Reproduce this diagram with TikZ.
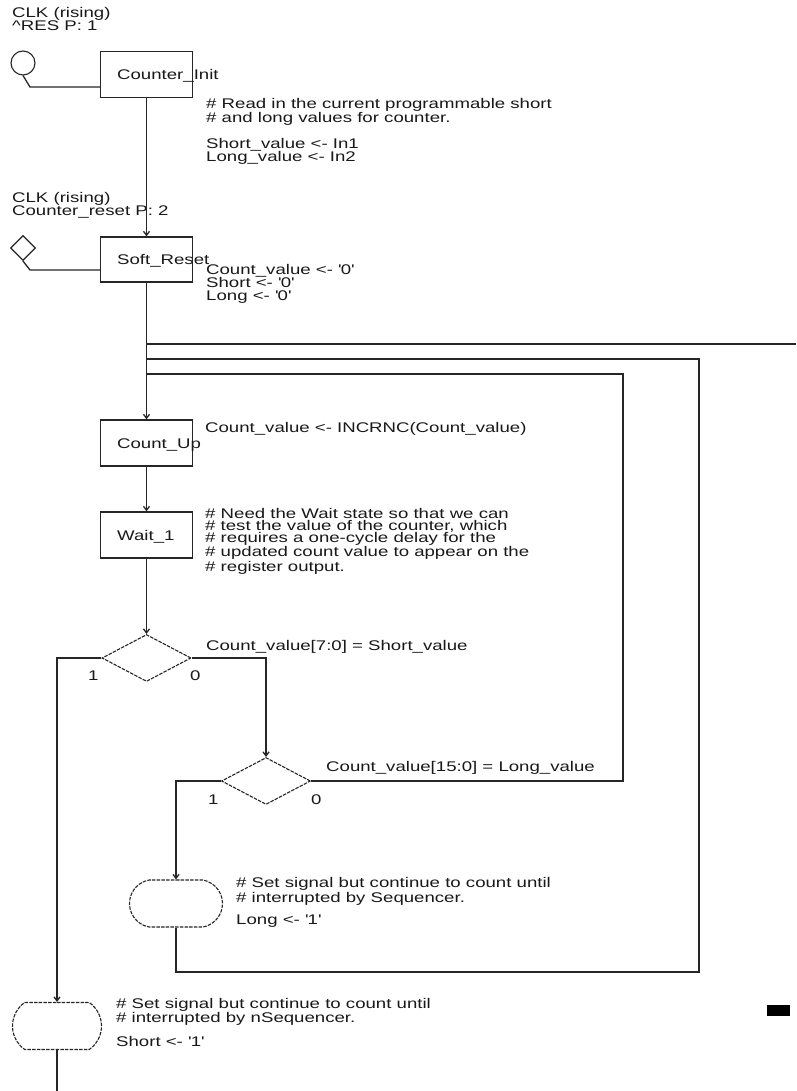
\documentclass[tikz,border=0pt]{standalone}
\usepackage{fontspec}
\setmainfont[FakeStretch=1.33]{Liberation Sans}
\usetikzlibrary{arrows.meta,shapes.geometric,shapes.misc}
\begin{document}
\begin{tikzpicture}[x=1pt,y=-1pt,
  wire/.style={line width=1.3pt, draw=black!85},
  arr/.style={wire, -{Straight Barb[length=4pt,width=6pt]}},
  statebox/.style={draw=black!85, line width=1.3pt, minimum width=92pt, minimum height=46pt, inner sep=0pt},
  dsh/.style={draw=black!85, line width=1.1pt, dash pattern=on 3.5pt off 1.2pt},
  cond/.style={diamond, dsh, minimum width=89pt, minimum height=47pt, inner sep=0pt},
  stad/.style={rounded rectangle, dsh, minimum height=47pt, inner sep=0pt},
  txt/.style={inner sep=0pt, anchor=base west, align=left, font=\fontsize{14}{13}\selectfont, text=black!90},
]
\useasboundingbox[fill=white] (0,0) rectangle (796,1091);

% start symbols
\node[circle, draw=black!85, line width=1.1pt, minimum size=24pt, inner sep=0pt] (c0) at (23,63) {};
\node[diamond, draw=black!85, line width=1.1pt, minimum width=25pt, minimum height=25pt, inner sep=0pt] (d0) at (23,248) {};

% labels of start symbols (anchor = baseline of last line)
\node[txt] (l0) at (12,31) {CLK (rising)\\\textasciicircum RES P: 1};
\node[txt] (l1) at (12,215) {CLK (rising)\\Counter\_reset P: 2};

% states
\node[statebox] (init) at (146.5,74.5) {};
\node[txt] (initt) at (117,80) {Counter\_Init};
\node[statebox, minimum height=45pt] (soft) at (146.5,259.5) {};
\node[txt] (softt) at (117,264) {Soft\_Reset};
\node[statebox] (cu) at (146.5,443) {};
\node[txt] (cut) at (117,448) {Count\_Up};
\node[statebox] (w1) at (146.5,535) {};
\node[txt] (w1t) at (117,540) {Wait\_1};

% conditions
\node[cond] (q1) at (146.5,658) {};
\node[cond] (q2) at (266,781) {};

% stadium states
\node[stad, minimum width=93pt, rounded rectangle arc length=160] (s2) at (176,903.5) {};
\node[stad, minimum width=89pt, rounded rectangle arc length=110] (s1) at (57,1026) {};

% comments (anchor = baseline of last line)
\node[txt] (k1) at (206,162) {\# Read in the current programmable short\\\# and long values for counter.\\[12pt]Short\_value <- In1\\Long\_value <- In2};
\node[txt] (k2) at (206,300) {Count\_value <- \textquotesingle0\textquotesingle\\Short <- \textquotesingle0\textquotesingle\\Long <- \textquotesingle0\textquotesingle};
\node[txt] (k3) at (205,432) {Count\_value <- INCRNC(Count\_value)};
\node[txt, font=\fontsize{14}{12}\selectfont] (k4) at (205,571) {\# Need the Wait state so that we can\\\# test the value of the counter, which\\\# requires a one-cycle delay for the\\\# updated count value to appear on the\\\# register output.};
\node[txt] (k5) at (206,650) {Count\_value[7:0] = Short\_value};
\node[txt] (k6) at (326,771) {Count\_value[15:0] = Long\_value};
\node[txt] (q1a) at (88,680) {1};
\node[txt] (q1b) at (190,680) {0};
\node[txt] (q2a) at (208,804) {1};
\node[txt] (q2b) at (311,804) {0};
\node[txt] (k7) at (236,924) {\# Set signal but continue to count until\\\# interrupted by Sequencer.\\[9pt]Long <- \textquotesingle1\textquotesingle};
\node[txt] (k8) at (116,1046) {\# Set signal but continue to count until\\\# interrupted by nSequencer.\\[9pt]Short <- \textquotesingle1\textquotesingle};

% coordinates for connectors
\coordinate (c0t) at (30,87);
\coordinate (d0t) at (30,270);
\coordinate (jA) at (146.5,344);
\coordinate (jB) at (146.5,359);
\coordinate (jC) at (146.5,374);
\coordinate (offA) at (796,344);
\coordinate (rB) at (699,972);
\coordinate (rC) at (623,781);
\coordinate (q1l) at (57,658);
\coordinate (q1r) at (266,658);
\coordinate (q2l) at (176,781);
\coordinate (bot) at (57,1091);

% connectors
\draw[wire] (c0.south) -- (c0t) -- (c0t -| init.west);
\draw[wire] (d0.south) -- (d0t) -- (d0t -| soft.west);
\draw[arr] (init.south) -- (soft.north);
\draw[arr] (soft.south) -- (cu.north);
\draw[arr] (cu.south) -- (w1.north);
\draw[arr] (w1.south) -- (q1.north);
\draw[wire] (offA) -- (jA);
\draw[wire] (s2.south) -- (s2.south |- rB) -- (rB) -- (rB |- jB) -- (jB);
\draw[wire] (q2.east) -- (rC) -- (rC |- jC) -- (jC);
\draw[arr] (q1.west) -- (q1l) -- (s1.north);
\draw[arr] (q1.east) -- (q1r) -- (q2.north);
\draw[arr] (q2.west) -- (q2l) -- (s2.north);
\draw[wire] (s1.south) -- (bot);

% black mark
\fill[black] (767,1005) rectangle (790,1016);
\end{tikzpicture}
\end{document}
